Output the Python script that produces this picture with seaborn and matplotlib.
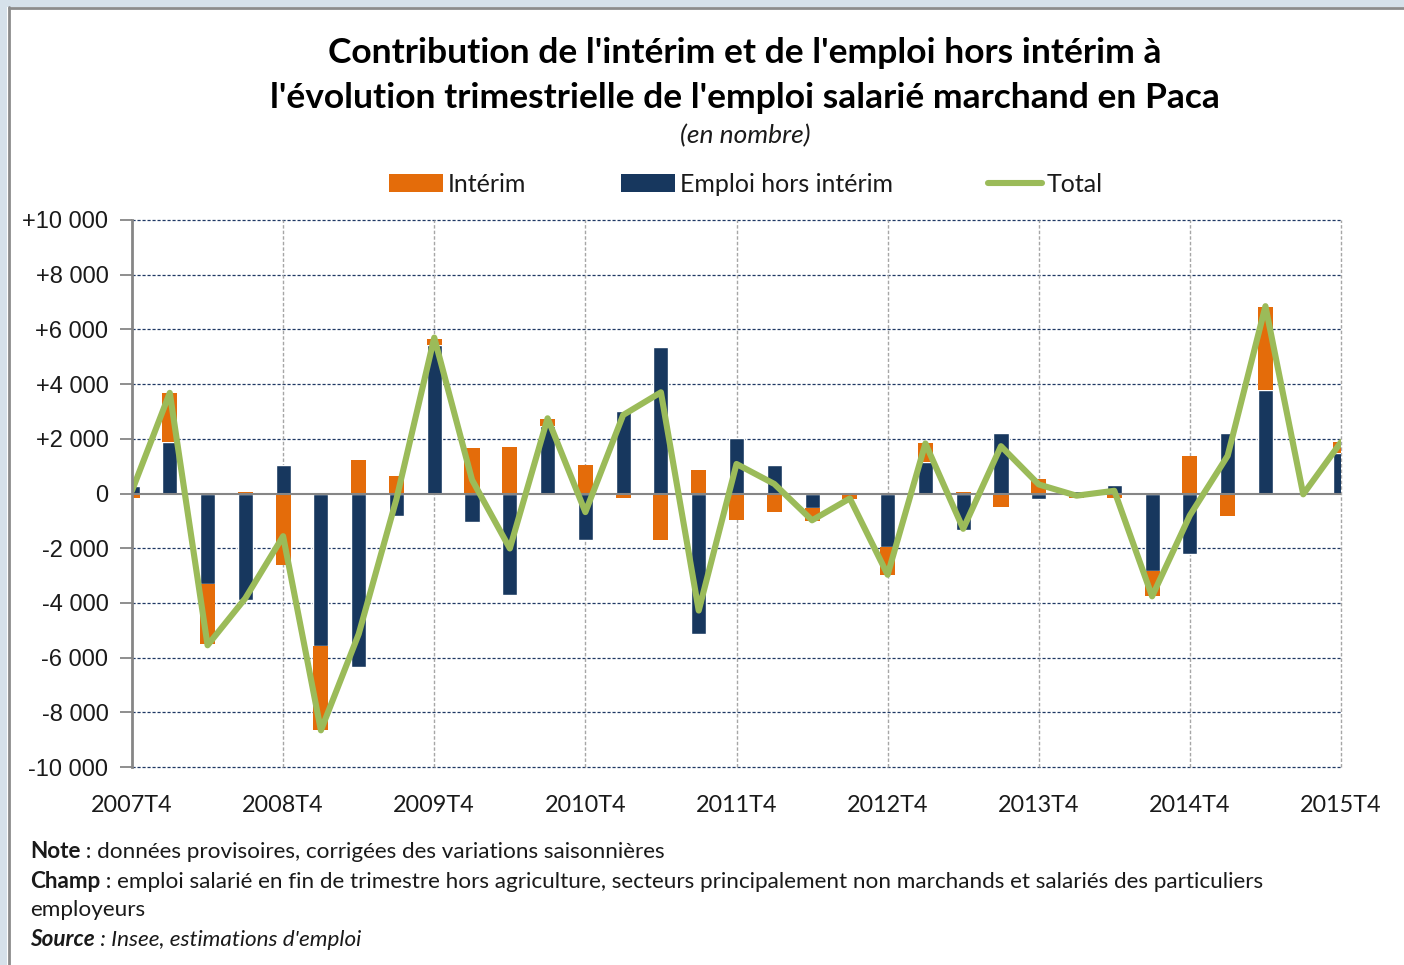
import matplotlib
matplotlib.use("Agg")
import matplotlib.pyplot as plt
import seaborn as sns
import numpy as np
import pandas as pd
from matplotlib.patches import Rectangle, Patch
from matplotlib.lines import Line2D

# ---- data ----
quarters = ['2007T4', '2008T1', '2008T2', '2008T3', '2008T4', '2009T1', '2009T2', '2009T3',
            '2009T4', '2010T1', '2010T2', '2010T3', '2010T4', '2011T1', '2011T2', '2011T3',
            '2011T4', '2012T1', '2012T2', '2012T3', '2012T4', '2013T1', '2013T2', '2013T3',
            '2013T4', '2014T1', '2014T2', '2014T3', '2014T4', '2015T1', '2015T2', '2015T3',
            '2015T4']
interim = [-160, 1770, -2210, 50, -2620, -3090, 1210, 630, 220, 1650, 1690, 250, 1030, -160,
           -1690, 850, -960, -680, -480, -160, -1030, 660, 50, -480, 520, -180, -180, -920,
           1370, -820, 3030, -50, 400]
emploi_hors = [260, 1890, -3310, -3880, 1030, -5570, -6350, -830, 5440, -1040, -3700, 2460,
               -1690, 3000, 5360, -5120, 2020, 1030, -520, -50, -1940, 1170, -1330, 2200, -200,
               100, 300, -2840, -2200, 2200, 3800, 50, 1470]
total = [100, 3680, -5550, -3830, -1560, -8660, -5140, -200, 5700, 500, -2010, 2750, -680,
         2870, 3700, -4280, 1080, 350, -980, -180, -2970, 1830, -1290, 1730, 330, -80, 100,
         -3760, -800, 1380, 6850, -30, 1880]
year_labels = ['2007T4', '2008T4', '2009T4', '2010T4', '2011T4', '2012T4', '2013T4', '2014T4', '2015T4']
y_ticks = [10000, 8000, 6000, 4000, 2000, 0, -2000, -4000, -6000, -8000, -10000]
y_labels = ['+10 000', '+8 000', '+6 000', '+4 000', '+2 000', '0', '-2 000', '-4 000',
            '-6 000', '-8 000', '-10 000']

C_ORANGE = '#E46C0A'
C_NAVY = '#17375E'
C_GREEN = '#9BBB59'
C_GRID = '#1F3864'
C_TEXT = '#1a1a1a'

sns.set_theme(style="white")
plt.rcParams['font.family'] = ['Lato', 'DejaVu Sans']

df = pd.DataFrame({'quarter': quarters, 'interim': interim, 'emploi': emploi_hors, 'total': total})
df['pos'] = np.arange(len(df))
year_pos = [quarters.index(q) for q in year_labels]

fig = plt.figure(figsize=(14.04, 9.65), dpi=100)
fig.patch.set_facecolor('white')

# window frame
fig.add_artist(Rectangle((0, 1 - 7 / 965), 1, 7 / 965, transform=fig.transFigure,
                         facecolor='#D6E1EA', edgecolor='none', zorder=0))
fig.add_artist(Rectangle((0, 0), 7 / 1404, 1, transform=fig.transFigure,
                         facecolor='#D6E1EA', edgecolor='none', zorder=0))
fig.add_artist(Line2D([8.5 / 1404, 8.5 / 1404], [0, 1 - 7 / 965], transform=fig.transFigure,
                      color='#8C8C8C', lw=2))
fig.add_artist(Line2D([8.5 / 1404, 1], [1 - 8 / 965, 1 - 8 / 965], transform=fig.transFigure,
                      color='#8C8C8C', lw=2))

ax = fig.add_axes([132 / 1404, 1 - 767 / 965, (1341 - 132) / 1404, (767 - 220) / 965])
ax.set_facecolor('white')

# navy bars (from zero)
sns.barplot(data=df, x='pos', y='emploi', native_scale=True, width=0.4, color=C_NAVY,
            saturation=1, ax=ax, zorder=2, errorbar=None)
# orange bars stacked on navy when same sign
bottoms = np.where(np.sign(df['interim']) == np.sign(df['emploi']), df['emploi'], 0)
ax.bar(df['pos'], df['interim'], bottom=bottoms, width=0.4, color=C_ORANGE, zorder=2, linewidth=0)

# total line
sns.lineplot(data=df, x='pos', y='total', color=C_GREEN, lw=4.4, ax=ax, zorder=5,
             solid_joinstyle='round', solid_capstyle='round')

# grid lines
for yv in y_ticks:
    if yv == 0:
        continue
    ax.axhline(yv, color=C_GRID, lw=0.9, ls=(0, (2.5, 1.5)), zorder=1, clip_on=False)
for xp in year_pos[1:]:
    ax.axvline(xp, color='#A6A6A6', lw=1.0, ls=(0, (2.5, 1.5)), zorder=1, clip_on=False)
ax.axhline(0, color='#868686', lw=1.5, zorder=4)

ax.set_xlim(0, len(quarters) - 1)
ax.set_ylim(-10000, 10000)
ax.set_xticks(year_pos)
ax.set_xticklabels(year_labels, fontsize=16.8, color=C_TEXT)
ax.set_yticks(y_ticks)
ax.set_yticklabels(y_labels, fontsize=17, color=C_TEXT, family=['Liberation Sans', 'DejaVu Sans'])
ax.tick_params(axis='x', length=0, pad=20)
ax.tick_params(axis='y', length=9, width=1.3, color='#868686', pad=8, left=True, direction='out')
ax.set_xlabel('')
ax.set_ylabel('')
for s in ['top', 'right', 'bottom']:
    ax.spines[s].set_visible(False)
ax.spines['left'].set_color('#868686')
ax.spines['left'].set_linewidth(2)
ax.spines['left'].set_zorder(6)

# titles
fig.text(745 / 1404, 1 - 53 / 965, "Contribution de l'intérim et de l'emploi hors intérim à",
         ha='center', va='center', fontsize=25.5, fontweight='bold', color='black')
fig.text(745 / 1404, 1 - 98 / 965, "l'évolution trimestrielle de l'emploi salarié marchand en Paca",
         ha='center', va='center', fontsize=25.5, fontweight='bold', color='black')
fig.text(745 / 1404, 1 - 136 / 965, "(en nombre)", ha='center', va='center', fontsize=19,
         style='italic', color=C_TEXT)

# legend
handles = [Patch(facecolor=C_ORANGE, edgecolor='none'),
           Patch(facecolor=C_NAVY, edgecolor='none'),
           Line2D([0], [0], color=C_GREEN, lw=4.4)]
fig.legend(handles, ['Intérim', 'Emploi hors intérim', 'Total'], loc='center',
           bbox_to_anchor=(746 / 1404, 1 - 184 / 965), ncol=3, frameon=False, fontsize=18,
           handlelength=2.15, handleheight=0.7, handletextpad=0.2, columnspacing=3.8,
           labelcolor=C_TEXT)

# footnotes (bold label followed by normal text)
def rich(x_px, y_px, parts, size=16.2):
    last = fig.text(x_px / 1404, 1 - y_px / 965, parts[0][0], ha='left', va='center',
                    fontsize=size, color=C_TEXT, **parts[0][1])
    for txt, kw in parts[1:]:
        last = ax.annotate(txt, xy=(1, 0), xycoords=last, ha='left', va='bottom',
                           fontsize=size, color=C_TEXT, annotation_clip=False, **kw)

rich(30, 851, [("Note", dict(fontweight='bold')),
               (" : données provisoires, corrigées des variations saisonnières", {})])
rich(30, 881, [("Champ", dict(fontweight='bold')),
               (" : emploi salarié en fin de trimestre hors agriculture, secteurs principalement non marchands et salariés des particuliers", {})])
rich(30, 910, [("employeurs", {})])
rich(30, 939, [("Source", dict(fontweight='bold', style='italic')),
               (" : Insee, estimations d'emploi", dict(style='italic'))])

fig.savefig('out.png', dpi=100, facecolor=fig.get_facecolor())
